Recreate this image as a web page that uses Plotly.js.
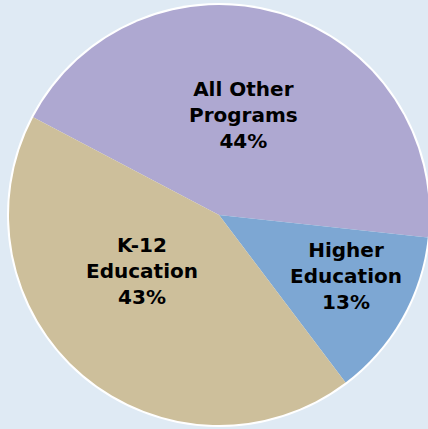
<!DOCTYPE html>
<html>
<head>
<meta charset="utf-8">
<script src="https://cdn.plot.ly/plotly-3.0.1.min.js"></script>
<style>
html, body { margin:0; padding:0; overflow:hidden; background:#dfeaf4; }
#chart { width:440px; height:429px; }
</style>
</head>
<body>
<div id="chart"></div>
<script>
const categories = ["All Other Programs", "Higher Education", "K-12 Education"];
const labelLines = ["All Other<br>Programs", "Higher<br>Education", "K-12<br>Education"];
const shares = [44, 13, 43];
const colors = ["#aea8d1", "#7da7d3", "#cdbf9b"];

const W = 440, H = 429;
const cx = 219, cy = 215, R = 210;
// label anchor points (pixels from top-left) for each slice's text block
const labelPos = [[243, 115], [346, 276], [142, 271]];

const trace = {
  type: "pie",
  labels: categories,
  values: shares,
  textinfo: "none",
  sort: false,
  direction: "clockwise",
  rotation: -62.25,
  marker: { colors: colors, line: { width: 0 } },
  hoverinfo: "none",
  showlegend: false,
  domain: { x: [(cx - R) / W, (cx + R) / W], y: [(H - cy - R) / H, (H - cy + R) / H] }
};

const annotations = categories.map((c, i) => ({
  xref: "paper", yref: "paper",
  x: labelPos[i][0] / W, y: (H - labelPos[i][1]) / H,
  xanchor: "center", yanchor: "middle",
  showarrow: false,
  align: "center",
  text: labelLines[i] + "<br>" + shares[i] + "%",
  font: { family: "DejaVu Sans", size: 20, color: "#000000", weight: "bold" }
}));

const layout = {
  width: W, height: H,
  margin: { l: 0, r: 0, t: 0, b: 0 },
  paper_bgcolor: "#dfeaf4",
  plot_bgcolor: "#dfeaf4",
  showlegend: false,
  annotations: annotations,
  shapes: [{
    type: "circle", xref: "paper", yref: "paper", layer: "below",
    x0: (cx - R - 2) / W, x1: (cx + R + 2) / W,
    y0: (H - cy - R - 2) / H, y1: (H - cy + R + 2) / H,
    fillcolor: "#ffffff", line: { width: 0 }
  }]
};

Plotly.newPlot("chart", [trace], layout, { staticPlot: true, displayModeBar: false });
</script>
</body>
</html>
